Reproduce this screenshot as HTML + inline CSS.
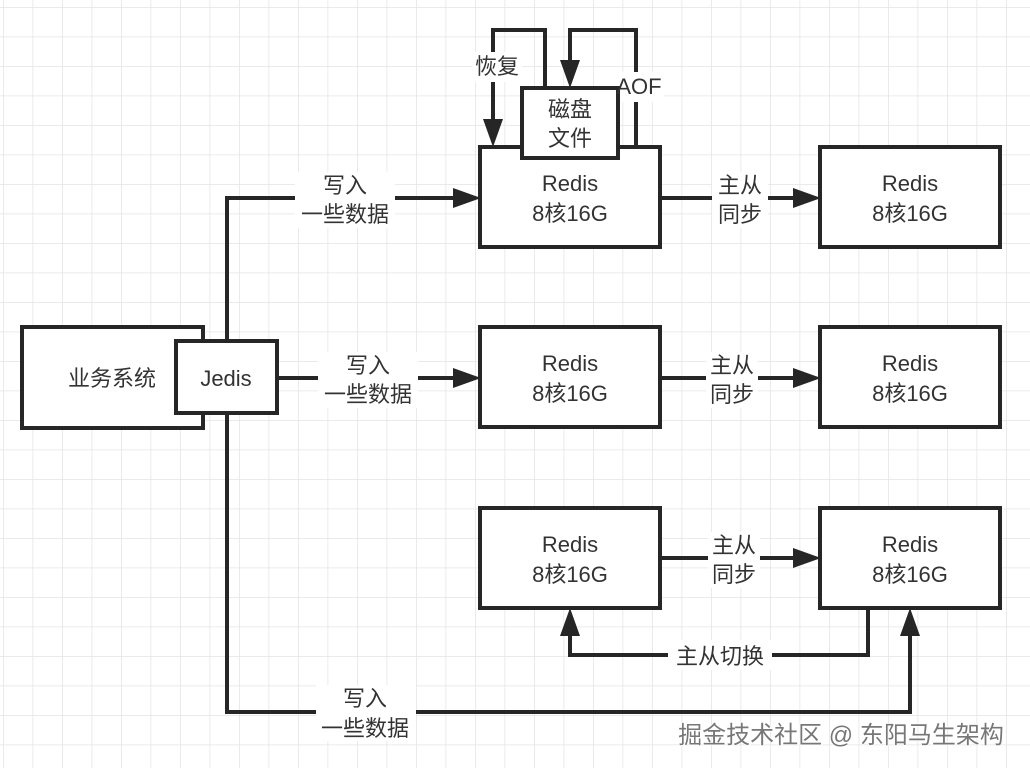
<!DOCTYPE html>
<html><head><meta charset="utf-8"><style>
html,body{margin:0;padding:0;background:#fff}
svg{display:block}
text{font-family:"Liberation Sans","Noto Sans CJK SC",sans-serif;font-size:22px;fill:#333;text-anchor:middle}
</style></head><body>
<svg width="1030" height="768" viewBox="0 0 1030 768">
<defs>
<pattern id="g" x="3" y="7" width="29.5" height="29.5" patternUnits="userSpaceOnUse">
<path d="M0 0H29.5M0 0V29.5" stroke="#e4e4e4" stroke-width="1.5" fill="none"/>
</pattern>
</defs>
<rect width="1030" height="768" fill="#fff"/>
<rect width="1030" height="768" fill="url(#g)"/>
<g stroke="#262626" stroke-width="4" fill="none">
<path d="M227 341V198H458"/>
<path d="M277 378H458"/>
<path d="M227 413V712H910V632"/>
<path d="M660 198H798"/>
<path d="M660 378H798"/>
<path d="M660 558H798"/>
<path d="M868 608V655H570V632"/>
<path d="M545 88V30H493V125"/>
<path d="M636 147V30H570V66"/>
</g>
<g fill="#262626">
<polygon points="481,198 453,188 453,208"/>
<polygon points="481,378 453,368 453,388"/>
<polygon points="821,198 793,188 793,208"/>
<polygon points="821,378 793,368 793,388"/>
<polygon points="821,558 793,548 793,568"/>
<polygon points="910,608 900,636 920,636"/>
<polygon points="570,608 560,636 580,636"/>
<polygon points="493,147 483,119 503,119"/>
<polygon points="570,88 560,60 580,60"/>
</g>
<g fill="#fff">
<rect x="295" y="172" width="100" height="56"/>
<rect x="318" y="352" width="100" height="56"/>
<rect x="316" y="685" width="100" height="56"/>
<rect x="712" y="172" width="56" height="56"/>
<rect x="706" y="352" width="52" height="56"/>
<rect x="708" y="532" width="52" height="56"/>
<rect x="668" y="640" width="104" height="30"/>
<rect x="472" y="52" width="50" height="30"/>
<rect x="614" y="72" width="50" height="30"/>
</g>
<g stroke="#262626" stroke-width="4" fill="#fff">
<rect x="22" y="327" width="181" height="101"/>
<rect x="176" y="341" width="101" height="72"/>
<rect x="480" y="147" width="180" height="100"/>
<rect x="522" y="88" width="96" height="70"/>
<rect x="820" y="147" width="180" height="100"/>
<rect x="480" y="327" width="180" height="100"/>
<rect x="820" y="327" width="180" height="100"/>
<rect x="480" y="508" width="180" height="100"/>
<rect x="820" y="508" width="180" height="100"/>
</g>
<text x="112" y="386">业务系统</text>
<text x="226" y="386">Jedis</text>
<text x="570" y="117">磁盘</text>
<text x="570" y="146">文件</text>
<text x="570" y="191">Redis</text>
<text x="570" y="221">8核16G</text>
<text x="910" y="191">Redis</text>
<text x="910" y="221">8核16G</text>
<text x="570" y="371">Redis</text>
<text x="570" y="401">8核16G</text>
<text x="910" y="371">Redis</text>
<text x="910" y="401">8核16G</text>
<text x="570" y="552">Redis</text>
<text x="570" y="582">8核16G</text>
<text x="910" y="552">Redis</text>
<text x="910" y="582">8核16G</text>
<text x="345" y="193">写入</text>
<text x="345" y="222">一些数据</text>
<text x="368" y="373">写入</text>
<text x="368" y="402">一些数据</text>
<text x="365" y="706">写入</text>
<text x="365" y="736">一些数据</text>
<text x="740" y="193">主从</text>
<text x="740" y="222">同步</text>
<text x="732" y="373">主从</text>
<text x="732" y="402">同步</text>
<text x="734" y="553">主从</text>
<text x="734" y="582">同步</text>
<text x="720" y="664">主从切换</text>
<text x="497" y="74">恢复</text>
<text x="639" y="94">AOF</text>
<text x="841" y="743" style="fill:#777;stroke:#fff;stroke-width:1.5;paint-order:stroke;font-size:24px">掘金技术社区 @ 东阳马生架构</text>
</svg>
</body></html>
